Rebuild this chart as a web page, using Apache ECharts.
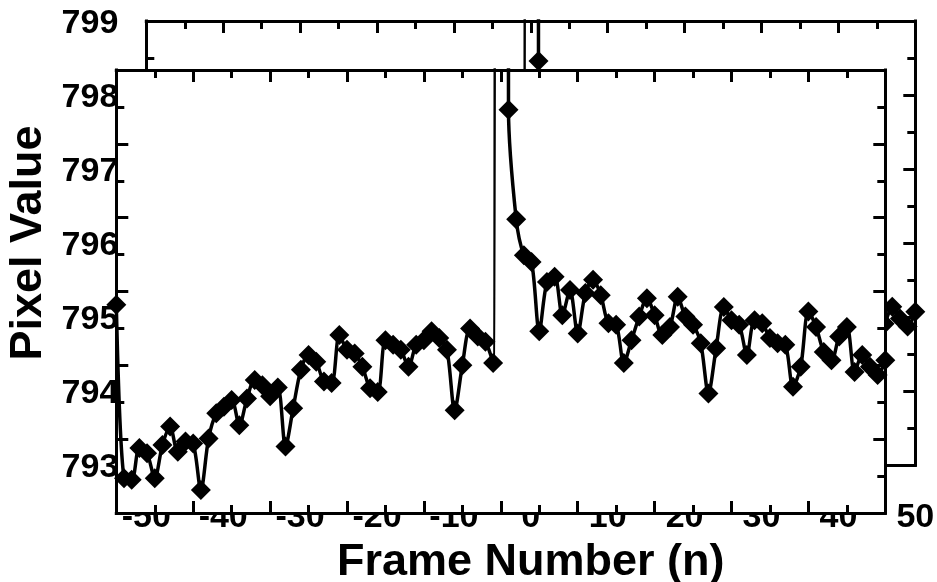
<!DOCTYPE html>
<html>
<head>
<meta charset="utf-8">
<script src="https://cdn.jsdelivr.net/npm/echarts@6/dist/echarts.min.js"></script>
<style>
  html, body { margin: 0; padding: 0; background: #ffffff; }
  #chart { width: 937px; height: 582px; }
</style>
</head>
<body>
<div id="chart"></div>
<script>
// Frame number relative to the event frame (n = 0)
const frames = [
  -50, -49, -48, -47, -46, -45, -44, -43, -42, -41,
  -40, -39, -38, -37, -36, -35, -34, -33, -32, -31,
  -30, -29, -28, -27, -26, -25, -24, -23, -22, -21,
  -20, -19, -18, -17, -16, -15, -14, -13, -12, -11,
  -10, -9, -8, -7, -6, -5, -4, -3, -2, -1,
  0,
  1, 2, 3, 4, 5, 6, 7, 8, 9, 10,
  11, 12, 13, 14, 15, 16, 17, 18, 19, 20,
  21, 22, 23, 24, 25, 26, 27, 28, 29, 30,
  31, 32, 33, 34, 35, 36, 37, 38, 39, 40,
  41, 42, 43, 44, 45, 46, 47, 48, 49, 50
];

// Pixel value per frame; the event frame saturates far above the axis range
const pixelValues = [
  795.82, 793.47, 793.45, 793.88, 793.81, 793.47, 793.92, 794.17, 793.83, 793.97,
  793.94, 793.31, 794.01, 794.35, 794.44, 794.53, 794.19, 794.55, 794.80, 794.73,
  794.58, 794.70, 793.90, 794.42, 794.94, 795.14, 795.05, 794.78, 794.76, 795.41,
  795.21, 795.16, 794.98, 794.69, 794.64, 795.34, 795.28, 795.21, 794.98, 795.28,
  795.34, 795.46, 795.37, 795.21, 794.39, 795.00, 795.50, 795.39, 795.32, 795.03,
  1000.00,
  798.46, 796.98, 796.49, 796.40, 795.46, 796.13, 796.20, 795.68, 796.02, 795.43,
  795.98, 796.16, 795.95, 795.57, 795.55, 795.03, 795.34, 795.66, 795.91, 795.68,
  795.41, 795.52, 795.93, 795.66, 795.55, 795.30, 794.62, 795.23, 795.79, 795.61,
  795.55, 795.14, 795.61, 795.57, 795.37, 795.30, 795.28, 794.71, 794.98, 795.73,
  795.52, 795.18, 795.07, 795.39, 795.52, 794.91, 795.14, 794.98, 794.87, 795.07
];

// Labelled tick values on each axis
const xTicks = [-50, -40, -30, -20, -10, 0, 10, 20, 30, 40, 50];
const yTicks = [793, 794, 795, 796, 797, 798, 799];

const xTitle = 'Frame Number (n)';
const yTitle = 'Pixel Value';

const points = frames.map((f, i) => [f, pixelValues[i]]);

const FONT = '"Liberation Sans", Arial, Helvetica, sans-serif';
const INK = '#000000';

function frameAxis(gridIndex, position, ticks, z, labelOpts) {
  const axis = {
    type: 'value',
    gridIndex: gridIndex,
    position: position,
    min: ticks[0],
    max: ticks[ticks.length - 1],
    interval: ticks[1] - ticks[0],
    z: z,
    splitLine: { show: false },
    axisLine: { show: true, onZero: false, lineStyle: { color: INK, width: 3, cap: 'square' } },
    axisTick: { show: true, inside: true, length: 12, lineStyle: { color: INK, width: 3 } },
    minorTick: { show: true, splitNumber: 2, length: 8, lineStyle: { color: INK, width: 3 } },
    axisLabel: { show: false }
  };
  if (labelOpts) {
    axis.axisLabel = Object.assign({
      show: true,
      color: INK,
      fontFamily: FONT,
      fontWeight: 'bold',
      fontSize: 34,
      showMinLabel: true,
      showMaxLabel: true
    }, labelOpts.label);
    axis.name = labelOpts.name;
    axis.nameLocation = 'middle';
    axis.nameGap = labelOpts.nameGap;
    axis.nameRotate = labelOpts.nameRotate;
    axis.nameTextStyle = { color: INK, fontFamily: FONT, fontWeight: 'bold', fontSize: 45 };
  }
  return axis;
}

function lineSeries(axisIndex, z) {
  return {
    type: 'line',
    xAxisIndex: axisIndex,
    yAxisIndex: axisIndex,
    data: points,
    z: z,
    clip: true,
    smooth: 0.3,
    showAllSymbol: true,
    symbol: 'diamond',
    symbolSize: 20,
    itemStyle: { color: INK },
    lineStyle: { color: INK, width: 3.5 },
    emphasis: { disabled: true },
    silent: true
  };
}

const chart = echarts.init(document.getElementById('chart'), null, { renderer: 'canvas' });

chart.setOption({
  backgroundColor: '#ffffff',
  animation: false,
  grid: [
    // rear copy of the frame
    { left: 146.3, top: 21, width: 769, height: 444, z: 0,
      containLabel: false, outerBoundsMode: 'none' },
    // front frame, opaque so it hides what lies behind it (tick labels included)
    { left: 116.3, top: 70, width: 769, height: 443, z: 10,
      containLabel: false, outerBoundsMode: 'none',
      show: true, backgroundColor: '#ffffff', borderWidth: 0 }
  ],
  xAxis: [
    frameAxis(0, 'bottom', xTicks, 0, {
      label: { margin: 36 },
      name: xTitle, nameGap: 71
    }),
    frameAxis(0, 'top', xTicks, 0),
    frameAxis(1, 'bottom', xTicks, 11),
    frameAxis(1, 'top', xTicks, 11)
  ],
  yAxis: [
    frameAxis(0, 'left', yTicks, 0, {
      label: { margin: 28, verticalAlign: 'top', lineHeight: 5 },
      name: yTitle, nameGap: 86, nameRotate: 90
    }),
    frameAxis(0, 'right', yTicks, 0),
    frameAxis(1, 'left', yTicks, 11),
    frameAxis(1, 'right', yTicks, 11)
  ],
  series: [
    lineSeries(0, 0),
    lineSeries(2, 12)
  ]
});
</script>
</body>
</html>
